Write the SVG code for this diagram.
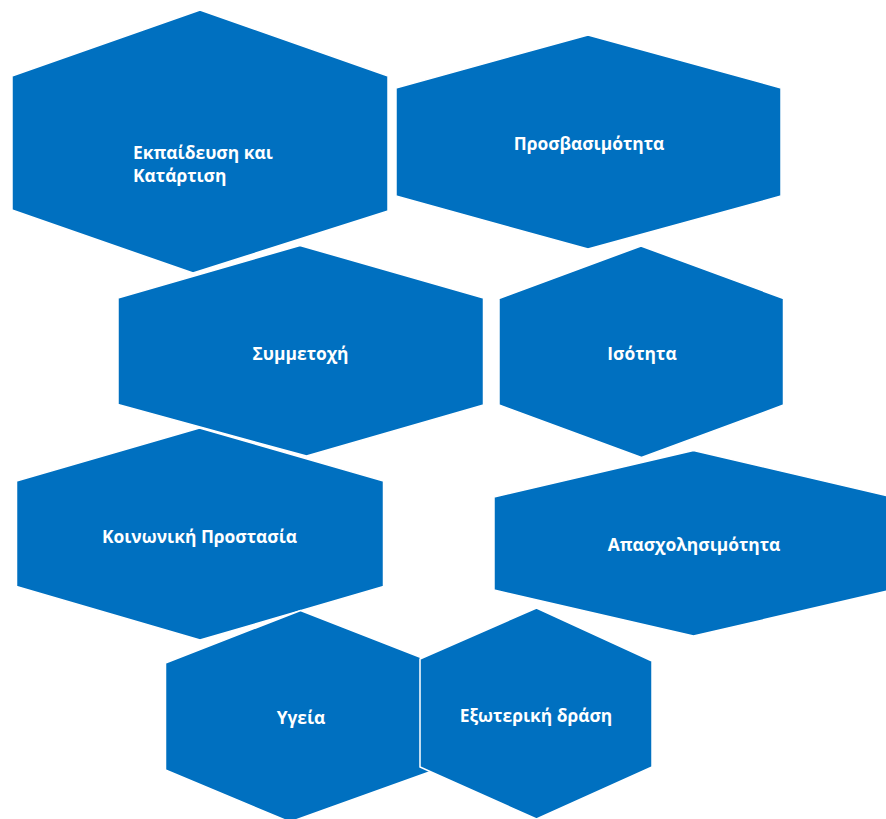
<svg xmlns="http://www.w3.org/2000/svg" width="886" height="819" viewBox="0 0 886 819">
<style>
.hex{fill:#0070C0;stroke:#FFFFFF;stroke-width:1.5;stroke-linejoin:miter}
.lbl{font-family:"Open Sans","Noto Sans","DejaVu Sans",sans-serif;font-weight:bold;font-size:17.4px;fill:#FFFFFF}
.c{text-anchor:middle}
</style>
<rect width="886" height="819" fill="#FFFFFF"/>
<g id="connectors"/>
<g id="node-ekpaideusi">
<polygon class="hex" points="200,10 388,76 388,211 193,273 12,210 12,76"/>
<text class="lbl" x="133" y="158.5">Εκπαίδευση και</text>
<text class="lbl" x="133" y="181.5">Κατάρτιση</text>
</g>
<g id="node-prosvasimotita">
<polygon class="hex" points="588,35 781,88 781,196 588,249 396,196 396,88"/>
<text class="lbl c" x="589" y="149.5">Προσβασιμότητα</text>
</g>
<g id="node-symmetochi">
<polygon class="hex" points="300,245.5 483.5,298 483.5,405 306.5,456 118,404.5 118,298"/>
<text class="lbl c" x="300.5" y="360">Συμμετοχή</text>
</g>
<g id="node-isotita">
<polygon class="hex" points="641,246 783.5,298.5 783.5,405 641.5,457.5 499,405 499,298.5"/>
<text class="lbl c" x="642" y="359.5">Ισότητα</text>
</g>
<g id="node-koinoniki">
<polygon class="hex" points="199.5,428 383.5,481 383.5,586.5 200,640 16.5,586.5 16.5,481"/>
<text class="lbl c" x="199.5" y="542.5">Κοινωνική Προστασία</text>
</g>
<g id="node-apascholisimotita">
<polygon class="hex" points="693.5,450.5 892,497 892,590 693.5,636 494,590 494,497"/>
<text class="lbl c" x="694" y="551">Απασχολησιμότητα</text>
</g>
<g id="node-ygeia">
<polygon class="hex" points="300.5,610.5 435,663 435,770 290,822 165.5,770 165.5,663"/>
<text class="lbl c" x="301" y="724">Υγεία</text>
</g>
<g id="node-exoteriki">
<polygon class="hex" points="536.5,608 652,661 652,767 536.5,819 420,767 420,659"/>
<text class="lbl c" x="536" y="722">Εξωτερική δράση</text>
</g>
</svg>
